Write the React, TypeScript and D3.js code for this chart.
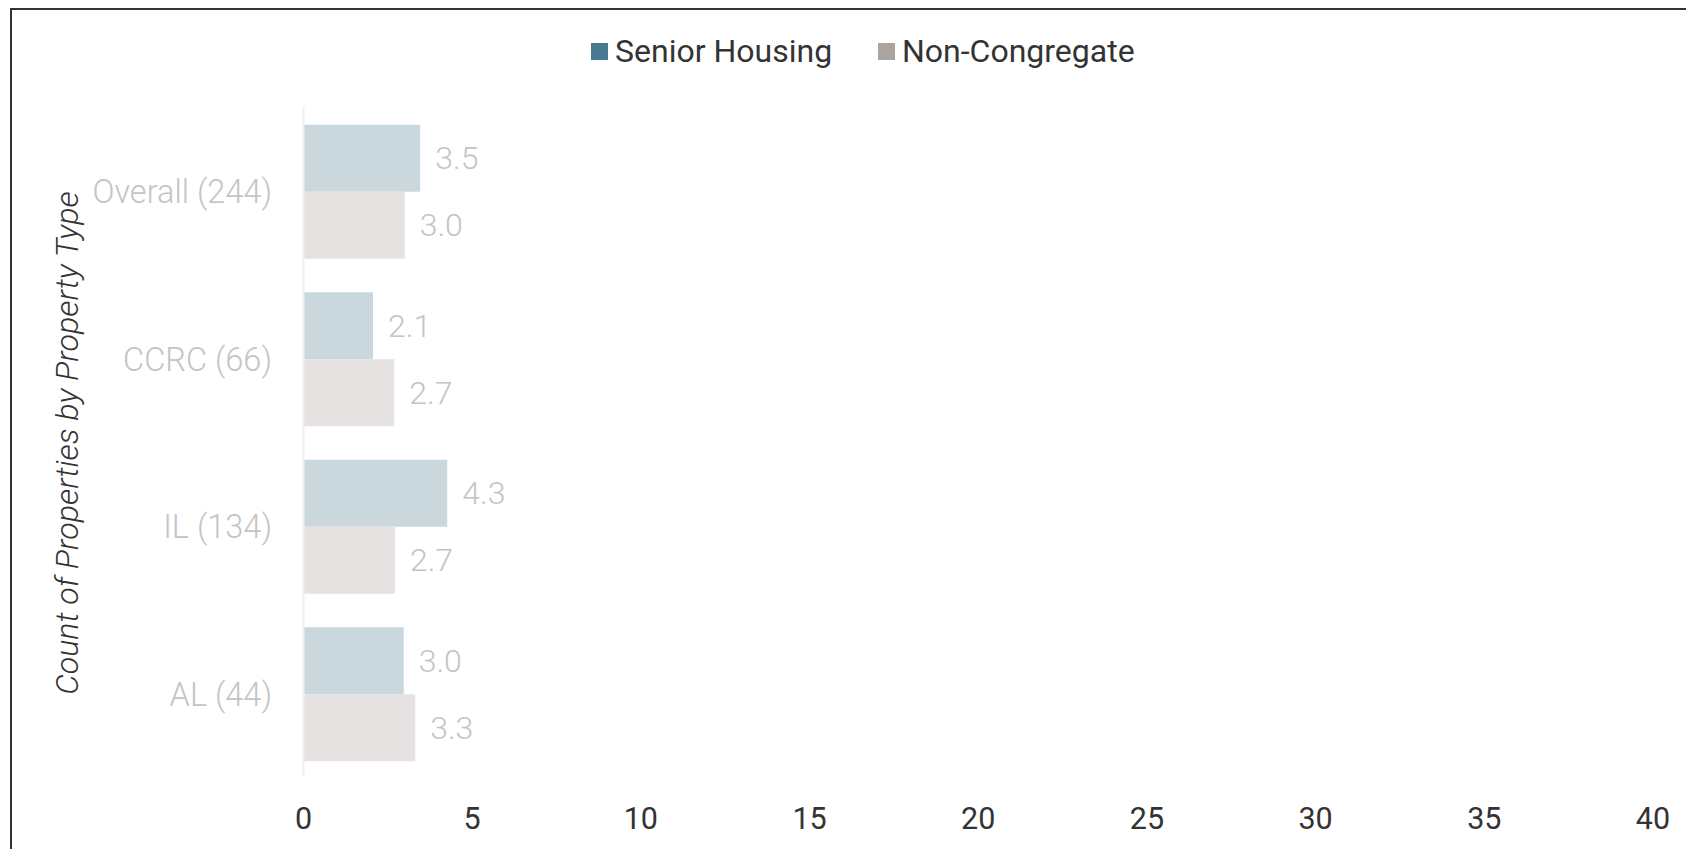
import * as React from "react"
import * as d3 from "d3"

const WIDTH = 1686
const HEIGHT = 849

const categories = ["Overall (244)", "CCRC (66)", "IL (134)", "AL (44)"]
const seriesNames = ["Senior Housing", "Non-Congregate"]
const seniorHousing = [3.46, 2.06, 4.26, 2.97]
const nonCongregate = [3.0, 2.69, 2.71, 3.31]
const xTicks = [0, 5, 10, 15, 20, 25, 30, 35, 40]

const barColors = ["#cad8de", "#e6e2e1"]
const legendColors = ["#4a7a91", "#aba39e"]
const FONT = "Roboto, 'Noto Sans', sans-serif"

export default function App() {
  const x = d3.scaleLinear().domain([0, 40]).range([303.5, 1653])
  const y = d3
    .scaleBand()
    .domain(categories)
    .range([108, 778])
    .paddingInner(0.2)
    .paddingOuter(0.1)
  const sub = d3
    .scaleBand()
    .domain(seriesNames)
    .range([0, y.bandwidth()])

  const rows = categories.map((c, i) => ({
    cat: c,
    vals: [seniorHousing[i], nonCongregate[i]],
  }))

  const legendX = [591, 878]

  return (
    <svg
      width={WIDTH}
      height={HEIGHT}
      style={{ position: "absolute", left: 0, top: 0, background: "#fff" }}
      fontFamily={FONT}
    >
      <rect x={11} y={9} width={WIDTH + 20} height={HEIGHT + 20} fill="#fff" stroke="#333" strokeWidth={2} />

      {/* legend */}
      {seriesNames.map((s, i) => (
        <g key={s}>
          <rect x={legendX[i]} y={43} width={17} height={17} fill={legendColors[i]} />
          <text x={legendX[i] + 24} y={51} dy="0.35em" fontSize={32} fill="#333">
            {s}
          </text>
        </g>
      ))}

      {/* axis title */}
      <text
        transform="translate(67,443) rotate(-90)"
        textAnchor="middle"
        dy="0.35em"
        fontSize={32.2}
        fontStyle="italic"
        fontWeight={300}
        fill="#333"
      >
        Count of Properties by Property Type
      </text>

      {/* bars */}
      {rows.map(r => (
        <g key={r.cat} transform={`translate(0,${y(r.cat)})`}>
          {r.vals.map((v, j) => (
            <g key={j}>
              <rect
                x={x(0)}
                y={sub(seriesNames[j])}
                width={x(v) - x(0)}
                height={sub.bandwidth()}
                fill={barColors[j]}
              />
              <text
                x={x(v) + 15}
                y={sub(seriesNames[j])! + sub.bandwidth() / 2}
                dy="0.35em"
                fontSize={32}
                fontWeight={300}
                fill="#c4c4c4"
              >
                {v.toFixed(1)}
              </text>
            </g>
          ))}
          <text
            x={272}
            y={y.bandwidth() / 2}
            dy="0.35em"
            textAnchor="end"
            fontSize={32.5}
            fontWeight={300}
            fill="#c4c4c4"
          >
            {r.cat}
          </text>
        </g>
      ))}

      {/* zero line */}
      <line x1={x(0)} x2={x(0)} y1={107} y2={777} stroke="#f0f0f0" strokeWidth={2} />

      {/* x ticks */}
      {xTicks.map(t => (
        <text key={t} x={x(t)} y={818} dy="0.35em" textAnchor="middle" fontSize={30.5} fill="#333">
          {t}
        </text>
      ))}
    </svg>
  )
}
